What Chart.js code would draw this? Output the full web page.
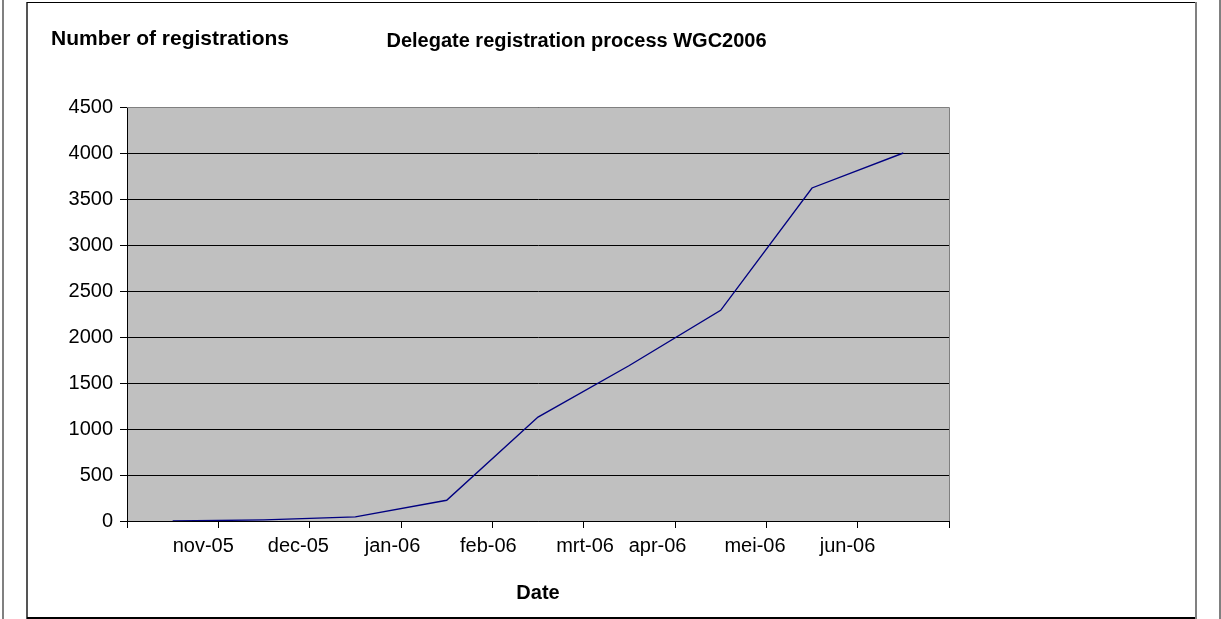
<!DOCTYPE html>
<html><head><meta charset="utf-8">
<script src="https://cdn.jsdelivr.net/npm/chart.js@4/dist/chart.umd.min.js"></script>
<style>
html,body{margin:0;padding:0;background:#fff;overflow:hidden}
#wrap{position:absolute;left:0;top:0;width:1221px;height:619px}
.ln{position:absolute}
</style></head><body>
<div id="wrap"><canvas id="c"></canvas></div>
<div class="ln" style="left:2px;top:0;width:2px;height:619px;background:#808080"></div>
<div class="ln" style="left:26px;top:2px;width:2px;height:617px;background:#555"></div>
<div class="ln" style="left:27px;top:2px;width:1170px;height:1px;background:#000"></div>
<div class="ln" style="left:27px;top:617px;width:1170px;height:2px;background:#000"></div>
<div class="ln" style="left:1195px;top:2px;width:2px;height:617px;background:#808080"></div>
<div class="ln" style="left:1219px;top:0;width:2px;height:619px;background:#808080"></div>
<script>
// ---- data ----
const registrations = [0, 12, 45, 225, 1130, 1690, 2290, 3620, 4000];
const monthLabels = ['nov-05', 'dec-05', 'jan-06', 'feb-06', 'mrt-06', 'apr-06', 'mei-06', 'jun-06'];
const monthLabelAt = [0.335, 1.376, 2.407, 3.456, 4.515, 5.309, 6.376, 7.389];
const yMin = 0, yMax = 4500, yStep = 500;
const chartTitle = 'Delegate registration process WGC2006';
const yTitle = 'Number of registrations';
const xTitle = 'Date';

const FONT = '"Liberation Sans", Arial, sans-serif';

const bgPlugin = {
  id: 'bg',
  beforeDraw(chart) {
    const {ctx, chartArea: a} = chart;
    ctx.save();
    ctx.fillStyle = '#C0C0C0';
    ctx.fillRect(a.left, a.top, a.right - a.left, a.bottom - a.top);
    ctx.restore();
  },
  afterDraw(chart) {
    const {ctx, chartArea: a} = chart;
    ctx.save();
    ctx.strokeStyle = '#808080';
    ctx.lineWidth = 1;
    ctx.beginPath();
    ctx.moveTo(a.left, Math.round(a.top) + 0.5);
    ctx.lineTo(Math.round(a.right) + 0.5, Math.round(a.top) + 0.5);
    ctx.lineTo(Math.round(a.right) + 0.5, a.bottom);
    ctx.stroke();
    ctx.fillStyle = '#000';
    ctx.textBaseline = 'alphabetic';
    ctx.textAlign = 'left';
    ctx.font = 'bold 21px ' + FONT;
    ctx.fillText(yTitle, 51, 45);
    ctx.textAlign = 'center';
    ctx.font = 'bold 20px ' + FONT;
    ctx.fillText(chartTitle, 576.5, 47);
    ctx.restore();
  }
};

new Chart(document.getElementById('c'), {
  type: 'line',
  data: {
    datasets: [{
      data: registrations.map((v, i) => ({x: i, y: v})),
      borderColor: '#000080',
      borderWidth: 1.4,
      pointRadius: 0,
      tension: 0,
      fill: false
    }]
  },
  options: {
    responsive: true,
    maintainAspectRatio: false,
    animation: false,
    layout: {padding: {top: 107, right: 272, left: 0, bottom: 0}},
    plugins: {legend: {display: false}, tooltip: {enabled: false}},
    scales: {
      x: {
        type: 'linear',
        min: -0.5,
        max: registrations.length - 0.5,
        afterBuildTicks(s) {
          const t = [];
          for (let i = 0; i <= registrations.length; i++) t.push({value: i - 0.5, boundary: true, name: ''});
          monthLabelAt.forEach((v, k) => t.push({value: v, boundary: false, name: monthLabels[k]}));
          t.sort((a, b) => a.value - b.value);
          s.ticks = t;
        },
        afterFit(s) { s.height = 98; },
        ticks: {
          autoSkip: false, maxRotation: 0, minRotation: 0, padding: 6, color: '#000',
          font: {family: FONT, size: 20},
          callback(value, index, ticks) { return ticks[index].name; }
        },
        grid: {
          drawOnChartArea: false, drawTicks: true, tickLength: 7, lineWidth: 1,
          color: c => (c.tick && c.tick.boundary) ? '#000' : 'rgba(0,0,0,0)'
        },
        border: {display: true, color: '#000', width: 1},
        title: {display: true, text: xTitle, color: '#000', font: {family: FONT, size: 20, weight: 'bold'}, padding: {top: 0, bottom: 14}}
      },
      y: {
        min: yMin, max: yMax,
        afterFit(s) { s.width = 127; },
        ticks: {stepSize: yStep, padding: 7, color: '#000', font: {family: FONT, size: 20}, callback: v => String(v)},
        grid: {color: '#000', lineWidth: 1, tickLength: 7, drawTicks: true},
        border: {display: true, color: '#000', width: 1}
      }
    }
  },
  plugins: [bgPlugin]
});
</script>
</body></html>
